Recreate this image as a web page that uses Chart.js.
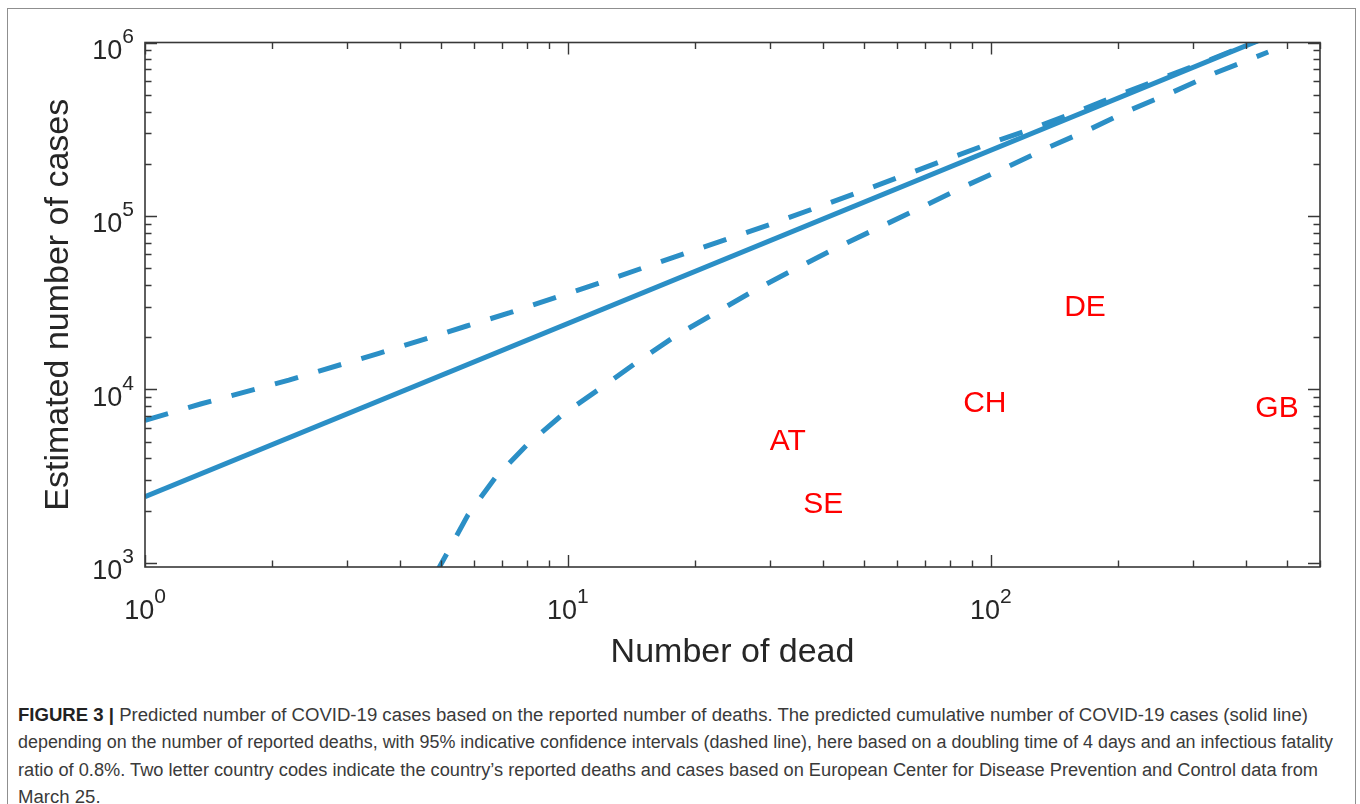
<!DOCTYPE html>
<html><head><meta charset="utf-8">
<script src="https://cdn.jsdelivr.net/npm/chart.js@4/dist/chart.umd.min.js"></script>
<style>
html,body{margin:0;padding:0;background:#fff;width:1360px;height:804px;overflow:hidden;}
#frame{position:absolute;left:7px;top:8px;width:1349px;height:830px;border:1.5px solid #8f8f8f;box-sizing:border-box;}
#c{position:absolute;left:0;top:0;}
#caption{position:absolute;left:18px;top:702px;font-family:'Liberation Sans',Arial,sans-serif;font-size:18px;color:#3a3a3a;line-height:27.4px;}
#caption div{white-space:nowrap;transform-origin:0 0;width:max-content;}
#caption b{color:#222;}
</style></head>
<body>
<div id="frame"></div>
<canvas id="c" width="1360" height="690"></canvas>
<div id="caption">
<div data-w="1290"><b>FIGURE 3 |</b> Predicted number of COVID-19 cases based on the reported number of deaths. The predicted cumulative number of COVID-19 cases (solid line)</div>
<div data-w="1315">depending on the number of reported deaths, with 95% indicative confidence intervals (dashed line), here based on a doubling time of 4 days and an infectious fatality</div>
<div data-w="1300">ratio of 0.8%. Two letter country codes indicate the country’s reported deaths and cases based on European Center for Disease Prevention and Control data from</div>
<div>March 25.</div>
</div>
<script>
// ---- data ----
const solidDeaths = [1, 452];
const solidCases  = [2400, 1.08e6];

const upperDeaths = [1, 1.353, 2.188, 3.573, 5.761, 7.293, 11.8, 18.91, 30.59, 49.05, 78.64, 99.56, 126.1, 159.7, 200.3, 253.6, 321, 452];
const upperCases  = [6620, 8230, 11310, 16130, 23180, 27660, 40860, 60850, 90640, 137900, 212100, 262300, 320100, 398900, 498000, 621500, 775000, 1.085e6];

const lowerDeaths = [4.85, 5.26, 5.80, 6.72, 8.00, 9.68, 11.78, 14.56, 18.1, 22.3, 27.7, 34.8, 43.5, 54.7, 68.8, 85.9, 108, 135.8, 169.8, 213.4, 269.8, 339, 452.6];
const lowerCases  = [850, 1216, 1884, 3077, 4775, 7110, 9910, 14360, 20560, 27550, 37420, 50100, 66200, 86300, 112500, 146800, 189000, 246600, 312700, 408000, 519000, 667000, 881000];

const countryCodes  = ['AT', 'SE', 'CH', 'DE', 'GB'];
const countryDeaths = [30, 36, 86, 149, 422];
const countryCases  = [5160, 2220, 8570, 30600, 7950];

const xTickValues = [1, 10, 100];
const xTickExps   = ['0', '1', '2'];
const yTickValues = [1e3, 1e4, 1e5, 1e6];
const yTickExps   = ['3', '4', '5', '6'];

const X_MIN = 1, X_MAX = 600, Y_MIN = 945, Y_MAX = 1e6;

const BLUE = '#2b8fc6';
const AXIS = '#383838';
const FONT = '"Liberation Sans", Arial, Helvetica, sans-serif';

const pts = (xs, ys) => xs.map((v, i) => ({x: v, y: ys[i]}));

function minorValues(min, max) {
  const out = [];
  for (let d = Math.pow(10, Math.floor(Math.log10(min))); d <= max; d *= 10) {
    for (let m = 1; m <= 9; m++) {
      const v = d * m;
      if (v >= min && v <= max) out.push({v, major: m === 1});
    }
  }
  return out;
}

const axesPlugin = {
  id: 'matlabAxes',
  afterDatasetsDraw(chart) {
    const {ctx, chartArea: a, scales: {x, y}} = chart;
    ctx.save();
    // country labels (left-aligned at the data point, vertically centred)
    const meta = chart.getDatasetMeta(3);
    ctx.fillStyle = '#ff0000';
    ctx.font = '30px ' + FONT;
    ctx.textAlign = 'left';
    ctx.textBaseline = 'middle';
    meta.data.forEach((p, i) => ctx.fillText(countryCodes[i], p.x, p.y + 2.5));

    // box
    ctx.strokeStyle = AXIS;
    ctx.lineWidth = 1.6;
    ctx.strokeRect(a.left, a.top, a.right - a.left, a.bottom - a.top);

    // ticks (inside, all four sides)
    ctx.beginPath();
    minorValues(X_MIN, X_MAX).forEach(t => {
      const px = Math.round(x.getPixelForValue(t.v)) + 0.5;
      const L = t.major ? 12 : 6.5;
      ctx.moveTo(px, a.bottom); ctx.lineTo(px, a.bottom - L);
      ctx.moveTo(px, a.top); ctx.lineTo(px, a.top + L);
    });
    minorValues(Y_MIN, Y_MAX).forEach(t => {
      const py = Math.round(y.getPixelForValue(t.v)) + 0.5;
      const L = t.major ? 12 : 6.5;
      ctx.moveTo(a.left, py); ctx.lineTo(a.left + L, py);
      ctx.moveTo(a.right, py); ctx.lineTo(a.right - L, py);
    });
    ctx.lineWidth = 1.4;
    ctx.stroke();

    // tick labels 10^n
    ctx.fillStyle = '#262626';
    ctx.textAlign = 'left';
    ctx.textBaseline = 'alphabetic';
    const big = '27px ' + FONT, sup = '21px ' + FONT;
    xTickValues.forEach((v, i) => {
      const px = x.getPixelForValue(v);
      ctx.font = big; const w1 = ctx.measureText('10').width;
      ctx.font = sup; const w2 = ctx.measureText(xTickExps[i]).width;
      const s = px - (w1 + w2) / 2;
      ctx.font = big; ctx.fillText('10', s, a.bottom + 52);
      ctx.font = sup; ctx.fillText(xTickExps[i], s + w1, a.bottom + 36);
    });
    yTickValues.forEach((v, i) => {
      const py = y.getPixelForValue(v);
      ctx.font = big; const w1 = ctx.measureText('10').width;
      ctx.font = sup; const w2 = ctx.measureText(yTickExps[i]).width;
      const s = 134 - (w1 + w2);
      ctx.font = big; ctx.fillText('10', s, py + 16.5);
      ctx.font = sup; ctx.fillText(yTickExps[i], s + w1, py + 0.5);
    });
    ctx.restore();
  }
};

new Chart(document.getElementById('c'), {
  type: 'scatter',
  data: {
    datasets: [
      {data: pts(solidDeaths, solidCases), showLine: true, borderColor: BLUE, borderWidth: 5, pointRadius: 0, clip: 0},
      {data: pts(upperDeaths, upperCases), showLine: true, borderColor: BLUE, borderWidth: 5, borderDash: [24, 21], pointRadius: 0, clip: 0},
      {data: pts(lowerDeaths, lowerCases), showLine: true, borderColor: BLUE, borderWidth: 5, borderDash: [24, 21], pointRadius: 0, clip: 0},
      {data: pts(countryDeaths, countryCases), showLine: false, pointRadius: 0, clip: false}
    ]
  },
  options: {
    responsive: false,
    animation: false,
    devicePixelRatio: 1,
    layout: {padding: {left: 0, top: 42.5, right: 40, bottom: 0}},
    plugins: {legend: {display: false}, tooltip: {enabled: false}},
    scales: {
      x: {
        type: 'logarithmic', position: 'bottom', min: X_MIN, max: X_MAX,
        grid: {display: false}, border: {display: false},
        ticks: {display: false},
        title: {display: true, text: 'Number of dead', color: '#262626',
                font: {family: FONT, size: 34}, padding: {top: 0, bottom: 17}},
        afterFit: s => { s.height = 123; }
      },
      y: {
        type: 'logarithmic', position: 'left', min: Y_MIN, max: Y_MAX,
        grid: {display: false}, border: {display: false},
        ticks: {display: false},
        title: {display: true, text: 'Estimated number of cases', color: '#262626',
                font: {family: FONT, size: 34}, padding: {top: 38, bottom: 0}},
        afterFit: s => { s.width = 145; }
      }
    }
  },
  plugins: [axesPlugin]
});

// fit each full caption line to the reference line length; the last line uses the first line's factor
const capLines = Array.from(document.querySelectorAll('#caption div'));
const k0 = 1290 / capLines[0].getBoundingClientRect().width;
capLines.forEach(d => {
  const k = d.dataset.w ? (+d.dataset.w) / d.getBoundingClientRect().width : k0;
  d.style.transform = 'scaleX(' + k.toFixed(4) + ')';
});
</script>
</body></html>
